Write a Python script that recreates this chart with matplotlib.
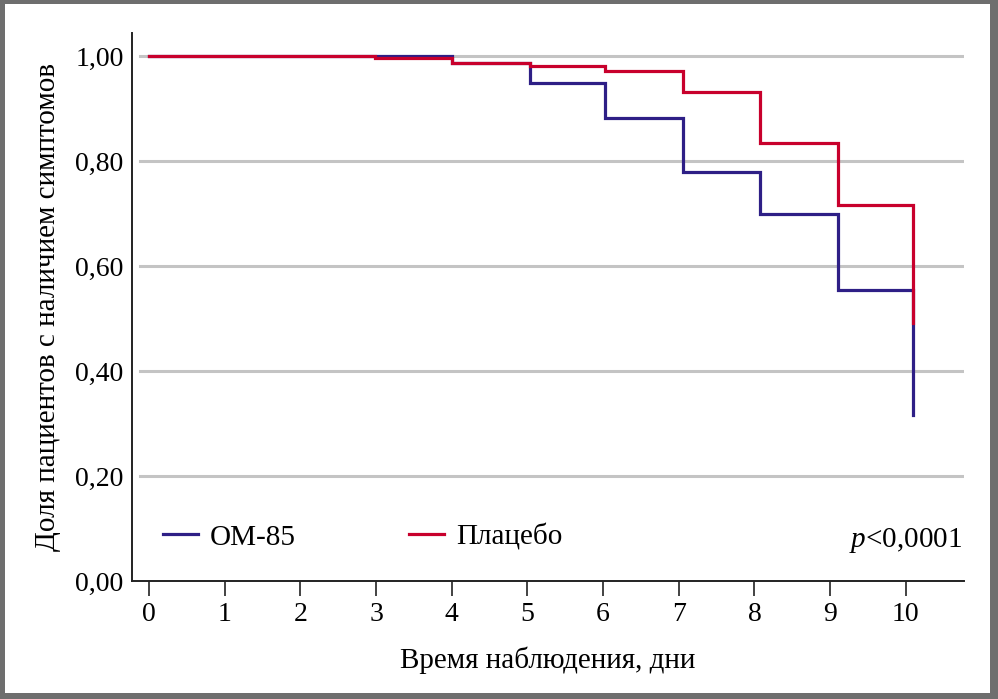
import matplotlib
matplotlib.use("Agg")
import matplotlib.pyplot as plt
from matplotlib.patches import Rectangle

# Data
om85_t = [0, 4.00, 5.04, 6.03, 7.06, 8.07, 9.10, 10.10]
om85_s = [1.00, 0.987, 0.948, 0.882, 0.780, 0.699, 0.554, 0.316]
plac_t = [0, 2.98, 4.00, 5.04, 6.03, 7.06, 8.07, 9.10, 10.10]
plac_s = [1.00, 0.997, 0.987, 0.982, 0.971, 0.931, 0.835, 0.717, 0.491]
x_ticks = list(range(0, 11))
y_ticks = [0.0, 0.2, 0.4, 0.6, 0.8, 1.0]
y_labels = ["0,00", "0,20", "0,40", "0,60", "0,80", "1,00"]
series_names = ["ОМ-85", "Плацебо"]

blue = "#2e1f86"
red = "#c8002c"
FONT = ["Liberation Serif", "DejaVu Serif"]
plt.rcParams["font.family"] = FONT
plt.rcParams["mathtext.fontset"] = "custom"
plt.rcParams["mathtext.it"] = "Liberation Serif:italic"
plt.rcParams["mathtext.rm"] = "Liberation Serif"

fig = plt.figure(figsize=(9.98, 6.99), dpi=100)
fig.patch.set_facecolor("#6e6e6e")
fig.patches.append(Rectangle((5/998, 6/699), 985/998, 689/699,
                             transform=fig.transFigure, facecolor="white",
                             edgecolor="none", zorder=-10))

ax = fig.add_axes([132/998, 1 - 581/699, (964-132)/998, (581-33)/699])
ax.patch.set_alpha(0)

for y in y_ticks[1:]:
    ax.axhline(y, color="#c4c4c4", lw=2.2, zorder=1, xmin=0.01)

def draw(t, s, color, label):
    xs = list(t)
    ys = list(s)
    px, py = [xs[0]], [ys[0]]
    for i in range(1, len(xs)):
        px += [xs[i], xs[i]]
        py += [ys[i-1], ys[i]]
    ax.plot(px, py, color=color, lw=2.3, solid_joinstyle="miter", label=label, zorder=3)

draw(om85_t, om85_s, blue, series_names[0])
draw(plac_t, plac_s, red, series_names[1])

ax.set_xlim(-0.225, 10.77)
ax.set_ylim(0, 1.044)
ax.set_xticks(x_ticks)
ax.set_xticklabels([str(v) for v in x_ticks], fontsize=20)
ax.set_yticks(y_ticks)
ax.set_yticklabels(y_labels, fontsize=20)
ax.tick_params(axis="x", length=11, width=1.2, direction="out", pad=4, color="#222222")
ax.tick_params(axis="y", length=0, pad=6)
for side in ["top", "right"]:
    ax.spines[side].set_visible(False)
for side in ["left", "bottom"]:
    ax.spines[side].set_linewidth(1.4)
    ax.spines[side].set_color("#222222")

ax.set_xlabel("Время наблюдения, дни", fontsize=21, labelpad=14)
ax.set_ylabel("Доля пациентов с наличием симптомов", fontsize=21, labelpad=10)

leg = ax.legend(loc="center left", bbox_to_anchor=(0.0373, 0.080), ncol=2,
                frameon=False, fontsize=21, handlelength=1.2, handletextpad=0.4,
                columnspacing=3.9, borderpad=0, borderaxespad=0)

ax.text(0.9976, 0.0748, r"$p$<0,0001", transform=ax.transAxes, ha="right",
        va="center", fontsize=21)

fig.savefig("out.png", dpi=100, facecolor=fig.get_facecolor())
